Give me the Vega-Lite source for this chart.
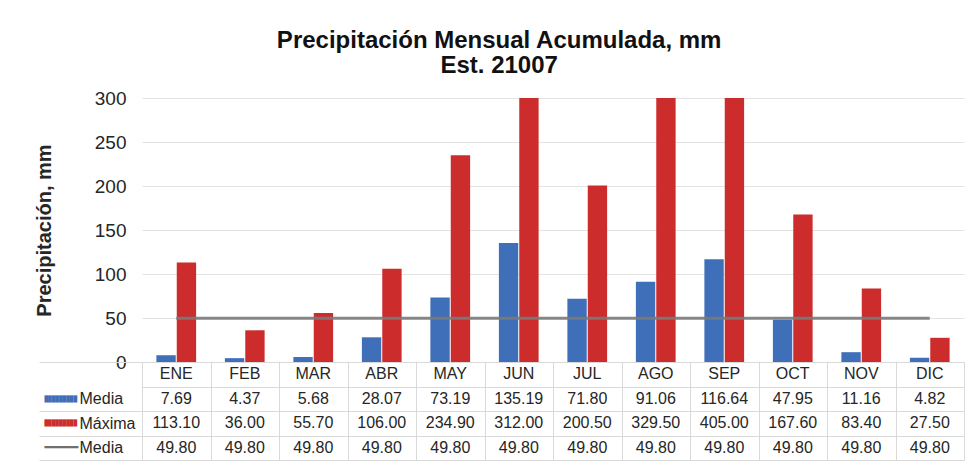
{
  "$schema": "https://vega.github.io/schema/vega-lite/v6.json",
  "padding": {"left": 34, "top": 29, "right": 11, "bottom": 3},
  "background": "white",
  "config": {"font": "Liberation Sans", "view": {"stroke": null}},
  "title": {
    "text": "Precipitación Mensual Acumulada, mm",
    "subtitle": "Est. 21007",
    "fontSize": 24,
    "fontWeight": "bold",
    "color": "#111111",
    "subtitleFontSize": 24,
    "subtitleFontWeight": "bold",
    "subtitleColor": "#111111",
    "subtitlePadding": 1,
    "anchor": "middle",
    "offset": 11
  },
  "datasets": {
    "d": [
      {"mes": "ENE", "media": 7.69, "maxima": 113.10, "linea": 49.80},
      {"mes": "FEB", "media": 4.37, "maxima": 36.00, "linea": 49.80},
      {"mes": "MAR", "media": 5.68, "maxima": 55.70, "linea": 49.80},
      {"mes": "ABR", "media": 28.07, "maxima": 106.00, "linea": 49.80},
      {"mes": "MAY", "media": 73.19, "maxima": 234.90, "linea": 49.80},
      {"mes": "JUN", "media": 135.19, "maxima": 312.00, "linea": 49.80},
      {"mes": "JUL", "media": 71.80, "maxima": 200.50, "linea": 49.80},
      {"mes": "AGO", "media": 91.06, "maxima": 329.50, "linea": 49.80},
      {"mes": "SEP", "media": 116.64, "maxima": 405.00, "linea": 49.80},
      {"mes": "OCT", "media": 47.95, "maxima": 167.60, "linea": 49.80},
      {"mes": "NOV", "media": 11.16, "maxima": 83.40, "linea": 49.80},
      {"mes": "DIC", "media": 4.82, "maxima": 27.50, "linea": 49.80}
    ]
  },
  "spacing": 0,
  "bounds": "flush",
  "resolve": {"scale": {"x": "independent", "y": "independent"}},
  "vconcat": [
    {
      "width": 822,
      "height": 264,
      "data": {"name": "d"},
      "layer": [
        {
          "transform": [{"fold": ["media", "maxima"], "as": ["serie", "valor"]}],
          "mark": {"type": "bar"},
          "encoding": {
            "x": {"field": "mes", "type": "nominal", "sort": ["ENE","FEB","MAR","ABR","MAY","JUN","JUL","AGO","SEP","OCT","NOV","DIC"], "scale": {"paddingInner": 0.42, "paddingOuter": 0.21}, "axis": null},
            "xOffset": {"field": "serie", "type": "nominal", "sort": ["media", "maxima"], "scale": {"paddingInner": 0.05}},
            "y": {
              "field": "valor", "type": "quantitative",
              "scale": {"domain": [0, 300], "clamp": true, "nice": false},
              "axis": {
                "values": [0, 50, 100, 150, 200, 250, 300],
                "title": "Precipitación, mm",
                "titleFontSize": 20,
                "titleFontWeight": "bold",
                "titleColor": "#262626",
                "titlePadding": 40,
                "labelFontSize": 19,
                "labelColor": "#262626",
                "labelPadding": 16,
                "ticks": false,
                "domain": false,
                "gridColor": "#e3e3e3"
              }
            },
            "color": {"field": "serie", "type": "nominal", "scale": {"domain": ["media", "maxima"], "range": ["#3f6fb8", "#cd2c2c"]}, "legend": null}
          }
        },
        {
          "mark": {"type": "line", "color": "#7a7a7a", "strokeWidth": 3, "opacity": 0.9},
          "encoding": {
            "x": {"field": "mes", "type": "nominal", "sort": ["ENE","FEB","MAR","ABR","MAY","JUN","JUL","AGO","SEP","OCT","NOV","DIC"]},
            "y": {"field": "linea", "type": "quantitative"}
          }
        }
      ]
    },
    {
      "width": 822,
      "height": 98,
      "data": {"name": "d"},
      "resolve": {"axis": {"y": "independent"}},
      "layer": [
        {
          "mark": {"type": "text", "fontSize": 16, "color": "#262626"},
          "encoding": {
            "x": {
              "field": "mes", "type": "nominal",
              "sort": ["ENE","FEB","MAR","ABR","MAY","JUN","JUL","AGO","SEP","OCT","NOV","DIC"],
              "scale": {"paddingInner": 0, "paddingOuter": 0},
              "axis": {"grid": true, "tickBand": "extent", "labels": false, "ticks": false, "domain": false, "title": null, "gridColor": "#d9d9d9", "orient": "bottom"}
            },
            "y": {
              "datum": "mes", "type": "nominal",
              "scale": {"domain": ["mes", "media", "maxima", "linea"], "paddingInner": 0, "paddingOuter": 0},
              "axis": {
                "orient": "left",
                "title": null,
                "ticks": false,
                "domain": false,
                "grid": false,
                "labelExpr": "datum.value == 'mes' ? '' : (datum.value == 'linea' ? '━━━━' : '█████████')",
                "labelFont": "DejaVu Sans Mono",
                "labelFontSize": {"condition": {"test": "datum.value == 'linea'", "value": 14}, "value": 6},
                "labelAlign": "left",
                "labelBaseline": "middle",
                "labelPadding": 98,
                "labelColor": {"condition": [{"test": "datum.value == 'media'", "value": "#3f6fb8"}, {"test": "datum.value == 'maxima'", "value": "#cd2c2c"}], "value": "#6f6f6f"}
              }
            },
            "text": {"field": "mes", "type": "nominal"}
          }
        },
        {
          "transform": [{"fold": ["media", "maxima", "linea"], "as": ["fila", "valor"]}],
          "mark": {"type": "text", "fontSize": 16, "color": "#262626"},
          "encoding": {
            "x": {"field": "mes", "type": "nominal", "sort": ["ENE","FEB","MAR","ABR","MAY","JUN","JUL","AGO","SEP","OCT","NOV","DIC"]},
            "y": {
              "field": "fila", "type": "nominal",
              "axis": {
                "orient": "left",
                "title": null,
                "domain": false,
                "grid": true,
                "gridColor": "#d9d9d9",
                "tickBand": "extent",
                "ticks": true,
                "tickSize": 103,
                "tickColor": {"condition": {"test": "datum.value == 'mes'", "value": "transparent"}, "value": "#d9d9d9"},
                "labelExpr": "datum.value == 'media' ? 'Media' : (datum.value == 'maxima' ? 'Máxima' : (datum.value == 'linea' ? 'Media' : ''))",
                "labelAlign": "left",
                "labelPadding": -40,
                "labelFontSize": 16,
                "labelColor": "#262626"
              }
            },
            "text": {"field": "valor", "type": "quantitative", "format": ".2f"}
          }
        }
      ]
    }
  ]
}
